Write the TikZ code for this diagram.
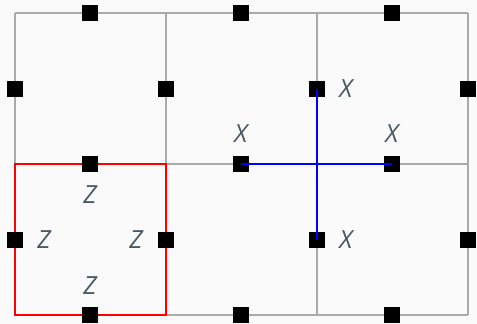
\documentclass[tikz,border=0pt]{standalone}
\usepackage{fontspec}
\setsansfont{Open Sans}
\usetikzlibrary{positioning}
\definecolor{gridgray}{HTML}{AAAAAA}
\definecolor{labelgray}{HTML}{4A5A62}
\definecolor{bgwhite}{HTML}{FAFAFA}
\begin{document}
\begin{tikzpicture}[
        x=1pt, y=-1pt,
        pin/.style={rectangle, fill=black, minimum size=16pt, inner sep=0pt},
        lbl/.style={inner sep=0pt, text=labelgray, font=\sffamily\itshape\fontsize{25}{25}\selectfont},
        gridline/.style={draw=gridgray, line width=1.2pt},
        link/.style={draw=blue, line width=2pt}
    ]
        \fill[bgwhite] (0,0) rectangle (477,324);
        \useasboundingbox (0,0) rectangle (477,324);
        % grid
        \foreach \x in {15,166,317,468} \draw[gridline] (\x,13) -- (\x,315);
        \foreach \y in {13,164,315} \draw[gridline] (15,\y) -- (468,\y);
        % red cell
        \draw[red, line width=2pt] (15,164) rectangle (166,315);
        % pins on horizontal edges
        \foreach \y [count=\j] in {13,164,315}
            \foreach \x [count=\i] in {90,241,392}
                \node[pin] (h\i\j) at (\x,\y) {};
        % pins on vertical edges
        \foreach \y [count=\j] in {89,240}
            \foreach \x [count=\i] in {15,166,317,468}
                \node[pin] (v\i\j) at (\x,\y) {};

        \draw[link] (v31.center) -- (v32.center);
        \draw[link] (h22.center) -- (h32.center);

        \node[lbl, right=14pt of v31] (x1) {X};
        \node[lbl, above=13pt of h22] (x2) {X};
        \node[lbl, above=13pt of h32] (x3) {X};
        \node[lbl, right=14pt of v32] (x4) {X};

        \node[lbl, below=13pt of h12] (z1) {Z};
        \node[lbl, right=14pt of v12] (z2) {Z};
        \node[lbl, left=15pt of v22] (z3) {Z};
        \node[lbl, above=12pt of h13] (z4) {Z};
    \end{tikzpicture}
\end{document}
